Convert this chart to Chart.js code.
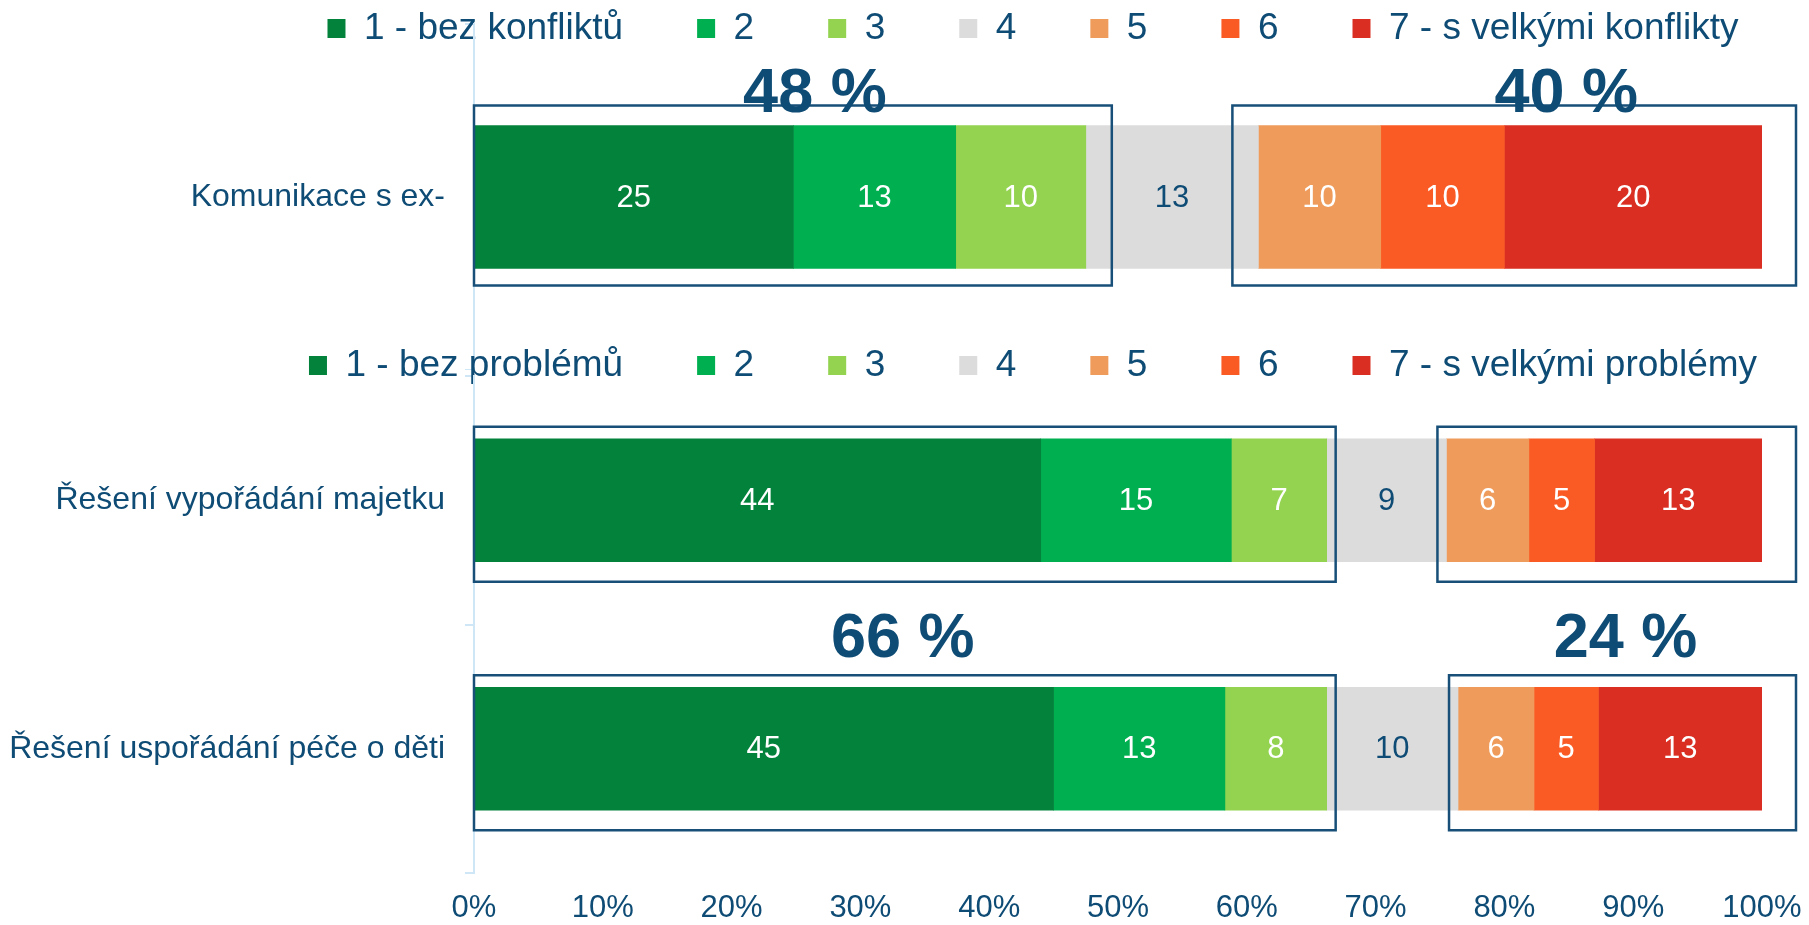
<!DOCTYPE html>
<html lang="cs">
<head>
  <meta charset="UTF-8" />
  <title>Konflikty a problémy po rozchodu</title>
  <script src="https://cdn.jsdelivr.net/npm/chart.js"></script>
  <style>
    html, body {
      margin: 0;
      padding: 0;
      background: #fff;
      overflow: hidden;
    }
    body {
      width: 1809px;
      height: 925px;
      position: relative;
    }
    /* canvases are wider than the page so the legends sit where they did in the original */
    .wrap {
      position: absolute;
      left: 0;
      width: 2066px;
    }
    #topWrap { top: -97px; height: 467px; }
    #bottomWrap { top: 255px; height: 670px; }
  </style>
</head>
<body>
  <div class="wrap" id="topWrap"><canvas id="topChart"></canvas></div>
  <div class="wrap" id="bottomWrap"><canvas id="bottomChart"></canvas></div>

  <script>
    // categories
    const categoriesTop = ['Komunikace s ex-'];
    const categoriesBottom = ['Řešení vypořádání majetku', 'Řešení uspořádání péče o děti'];

    // legend / series names
    const seriesTop = ['1 - bez konfliktů', '2', '3', '4', '5', '6', '7 - s velkými konflikty'];
    const seriesBottom = ['1 - bez problémů', '2', '3', '4', '5', '6', '7 - s velkými problémy'];

    // share of answers in %, one array per scale point (1..7)
    const valuesTop = [[24.8], [12.6], [10.1], [13.4], [9.5], [9.6], [20.0]];
    const valuesBottom = [
      [44.0, 45.0],
      [14.8, 13.3],
      [7.4, 7.9],
      [9.3, 10.2],
      [6.4, 5.9],
      [5.1, 5.0],
      [13.0, 12.7]
    ];

    const xTickLabels = ['0%', '10%', '20%', '30%', '40%', '50%', '60%', '70%', '80%', '90%', '100%'];

    const colors = ['#03823C', '#00AF50', '#93D350', '#DCDCDC', '#EF9B5C', '#FA5B24', '#D92E21'];
    const ink = '#0F4C75';
    const axisBlue = '#CFE6F7';
    const frameBlue = '#174F78';

    Chart.defaults.font.family = '"Liberation Sans", Arial, sans-serif';

    // numbers inside the bar segments
    const segmentLabels = {
      id: 'segmentLabels',
      afterDatasetsDraw(chart) {
        const ctx = chart.ctx;
        ctx.save();
        ctx.font = '31px "Liberation Sans", Arial, sans-serif';
        ctx.textAlign = 'center';
        ctx.textBaseline = 'middle';
        chart.data.datasets.forEach((ds, i) => {
          chart.getDatasetMeta(i).data.forEach((bar, j) => {
            ctx.fillStyle = i === 3 ? ink : '#fff';
            ctx.fillText(Math.round(ds.data[j]), (bar.x + bar.base) / 2, bar.y + 1);
          });
        });
        ctx.restore();
      }
    };

    // outlined groups (1-3 and 5-7) with their totals
    const frames = {
      id: 'frames',
      afterDatasetsDraw(chart, args, o) {
        const {ctx, scales: {x}} = chart;
        const ds = chart.data.datasets;
        ctx.save();
        chart.data.labels.forEach((_, j) => {
          const row = ds.map(d => d.data[j]);
          const greenEnd = row[0] + row[1] + row[2];
          const redStart = greenEnd + row[3];
          const bar = chart.getDatasetMeta(0).data[j];
          const top = bar.y - bar.height / 2 - o.padTop;
          const bottom = bar.y + bar.height / 2 + o.padBottom;
          const l0 = x.getPixelForValue(0);
          const l1 = x.getPixelForValue(greenEnd) + o.padIn;
          const r0 = x.getPixelForValue(redStart) - o.padIn;
          const r1 = x.getPixelForValue(100) + o.padOut;

          ctx.strokeStyle = frameBlue;
          ctx.lineWidth = 2.5;
          ctx.strokeRect(l0, top, l1 - l0, bottom - top);
          ctx.strokeRect(r0, top, r1 - r0, bottom - top);

          if (o.totals[j]) {
            const rounded = row.map(v => Math.round(v));
            const low = rounded[0] + rounded[1] + rounded[2];
            const high = rounded[4] + rounded[5] + rounded[6];
            ctx.font = 'bold 63px "Liberation Sans", Arial, sans-serif';
            ctx.fillStyle = ink;
            ctx.textAlign = 'center';
            ctx.textBaseline = 'middle';
            ctx.fillText(low + ' %', (l0 + l1) / 2 + o.dxL, top + o.dy);
            ctx.fillText(high + ' %', (r0 + r1) / 2 + o.dxR, top + o.dy);
          }
        });
        ctx.restore();
      }
    };

    // the legend sits closer to the plot than chart.js would put it
    const legendNudge = {
      id: 'legendNudge',
      afterLayout(chart, args, o) {
        chart.legend.top += o.dy;
        chart.legend.bottom += o.dy;
      }
    };

    function makeChart(id, labels, names, values, opt) {
      return new Chart(document.getElementById(id), {
        type: 'bar',
        data: {
          labels,
          datasets: names.map((name, i) => ({
            label: name,
            data: values[i],
            backgroundColor: colors[i],
            borderWidth: 0,
            barThickness: opt.bar
          }))
        },
        options: {
          indexAxis: 'y',
          responsive: true,
          maintainAspectRatio: false,
          animation: false,
          layout: { padding: 0 },
          plugins: {
            legend: {
              position: 'top',
              labels: {
                boxWidth: 18,
                boxHeight: 19,
                padding: 74,
                color: ink,
                font: { size: 37 }
              }
            },
            tooltip: { enabled: false },
            frames: opt.frames,
            legendNudge: { dy: opt.legendDy }
          },
          scales: {
            x: {
              stacked: true,
              min: 0,
              max: 100,
              grid: { display: false, drawTicks: false },
              border: { display: false },
              ticks: {
                display: opt.showX,
                stepSize: 10,
                maxRotation: 0,
                autoSkip: false,
                padding: 17,
                color: ink,
                font: { size: 31 },
                callback: (v, i) => xTickLabels[i]
              },
              afterFit: s => {
                s.height = opt.showX ? 52 : 0;
                s.paddingLeft = 0;
                s.paddingRight = 304;
              }
            },
            y: {
              stacked: true,
              grid: { drawOnChartArea: false, tickLength: 9, color: axisBlue, lineWidth: 2 },
              border: { color: axisBlue, width: 2 },
              ticks: { padding: 20, color: ink, font: { size: 32 } },
              afterFit: s => {
                s.width = 474;
                s.paddingTop = 0;
                s.paddingBottom = 0;
              }
            }
          }
        },
        plugins: [segmentLabels, frames, legendNudge]
      });
    }

    makeChart('topChart', categoriesTop, seriesTop, valuesTop, {
      bar: 143,
      legendDy: 33,
      showX: false,
      frames: { padTop: 20, padBottom: 17, padIn: 26, padOut: 34, dxL: 22, dxR: 52, dy: -11, totals: [true] }
    });

    makeChart('bottomChart', categoriesBottom, seriesBottom, valuesBottom, {
      bar: 123,
      legendDy: 18,
      showX: true,
      frames: { padTop: 12, padBottom: 20, padIn: 9, padOut: 34, dxL: -2, dxR: 3, dy: -36, totals: [false, true] }
    });
  </script>
</body>
</html>
